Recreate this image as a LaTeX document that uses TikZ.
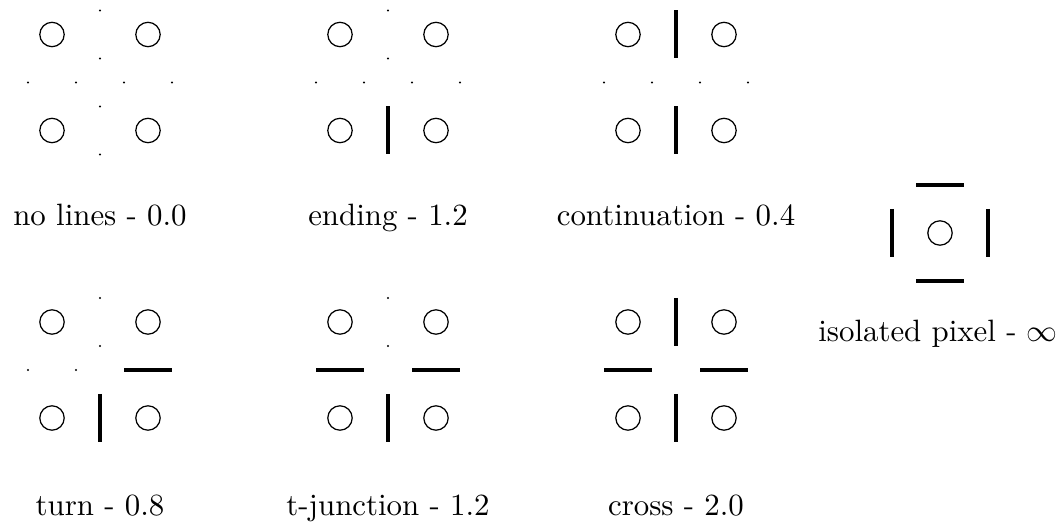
\documentclass[tikz,border=0pt]{standalone}
\tikzset{
  pxcirc/.style={circle,draw,line width=0.4pt,minimum size=7.9pt,inner sep=0pt},
  seg/.style={line width=1.0pt},
  lbl/.style={anchor=base,inner sep=0pt,font=\normalsize}
}
\newcommand\pxseg[3]{%
  \ifnum#1=1 \draw[seg] (#2) -- (#3);%
  \else \fill (#2) circle[radius=1.1]; \fill (#3) circle[radius=1.1];\fi}
% name, cx, cy, top, bottom, left, right
\newcommand\pxpanel[7]{%
  \node[pxcirc] (#1-ul) at (#2-48,#3-48) {};
  \node[pxcirc] (#1-ur) at (#2+48,#3-48) {};
  \node[pxcirc] (#1-ll) at (#2-48,#3+48) {};
  \node[pxcirc] (#1-lr) at (#2+48,#3+48) {};
  \coordinate (#1-t1) at (#2,#3-72); \coordinate (#1-t2) at (#2,#3-24);
  \coordinate (#1-b1) at (#2,#3+24); \coordinate (#1-b2) at (#2,#3+72);
  \coordinate (#1-l1) at (#2-72,#3); \coordinate (#1-l2) at (#2-24,#3);
  \coordinate (#1-r1) at (#2+24,#3); \coordinate (#1-r2) at (#2+72,#3);
  \pxseg{#4}{#1-t1}{#1-t2}
  \pxseg{#5}{#1-b1}{#1-b2}
  \pxseg{#6}{#1-l1}{#1-l2}
  \pxseg{#7}{#1-r1}{#1-r2}
}
\begin{document}
\begin{tikzpicture}[x=0.324pt,y=-0.324pt]
\useasboundingbox (0,0) rectangle (1063,523);
\pxpanel{p1}{100}{82.5}{0}{0}{0}{0}
\pxpanel{p2}{388}{82.5}{0}{1}{0}{0}
\pxpanel{p3}{676}{82.5}{1}{1}{0}{0}
\pxpanel{p4}{100}{370}{0}{1}{0}{1}
\pxpanel{p5}{388}{370}{0}{1}{1}{1}
\pxpanel{p6}{676}{370}{1}{1}{1}{1}
% isolated pixel
\node[pxcirc] (iso) at (940,233) {};
\coordinate (iso-t1) at (916,185); \coordinate (iso-t2) at (964,185);
\coordinate (iso-b1) at (916,281); \coordinate (iso-b2) at (964,281);
\coordinate (iso-l1) at (892,209); \coordinate (iso-l2) at (892,257);
\coordinate (iso-r1) at (988,209); \coordinate (iso-r2) at (988,257);
\draw[seg] (iso-t1) -- (iso-t2);
\draw[seg] (iso-b1) -- (iso-b2);
\draw[seg] (iso-l1) -- (iso-l2);
\draw[seg] (iso-r1) -- (iso-r2);
% labels
\node[lbl] (l1) at (100,226) {no lines - 0.0};
\node[lbl] (l2) at (388,226) {ending - 1.2};
\node[lbl] (l3) at (676,226) {continuation - 0.4};
\node[lbl] (l4) at (100,515) {turn - 0.8};
\node[lbl] (l5) at (388,515) {t-junction - 1.2};
\node[lbl] (l6) at (676,515) {cross - 2.0};
\node[lbl] (l7) at (938,342) {isolated pixel - $\infty$};
\end{tikzpicture}
\end{document}
